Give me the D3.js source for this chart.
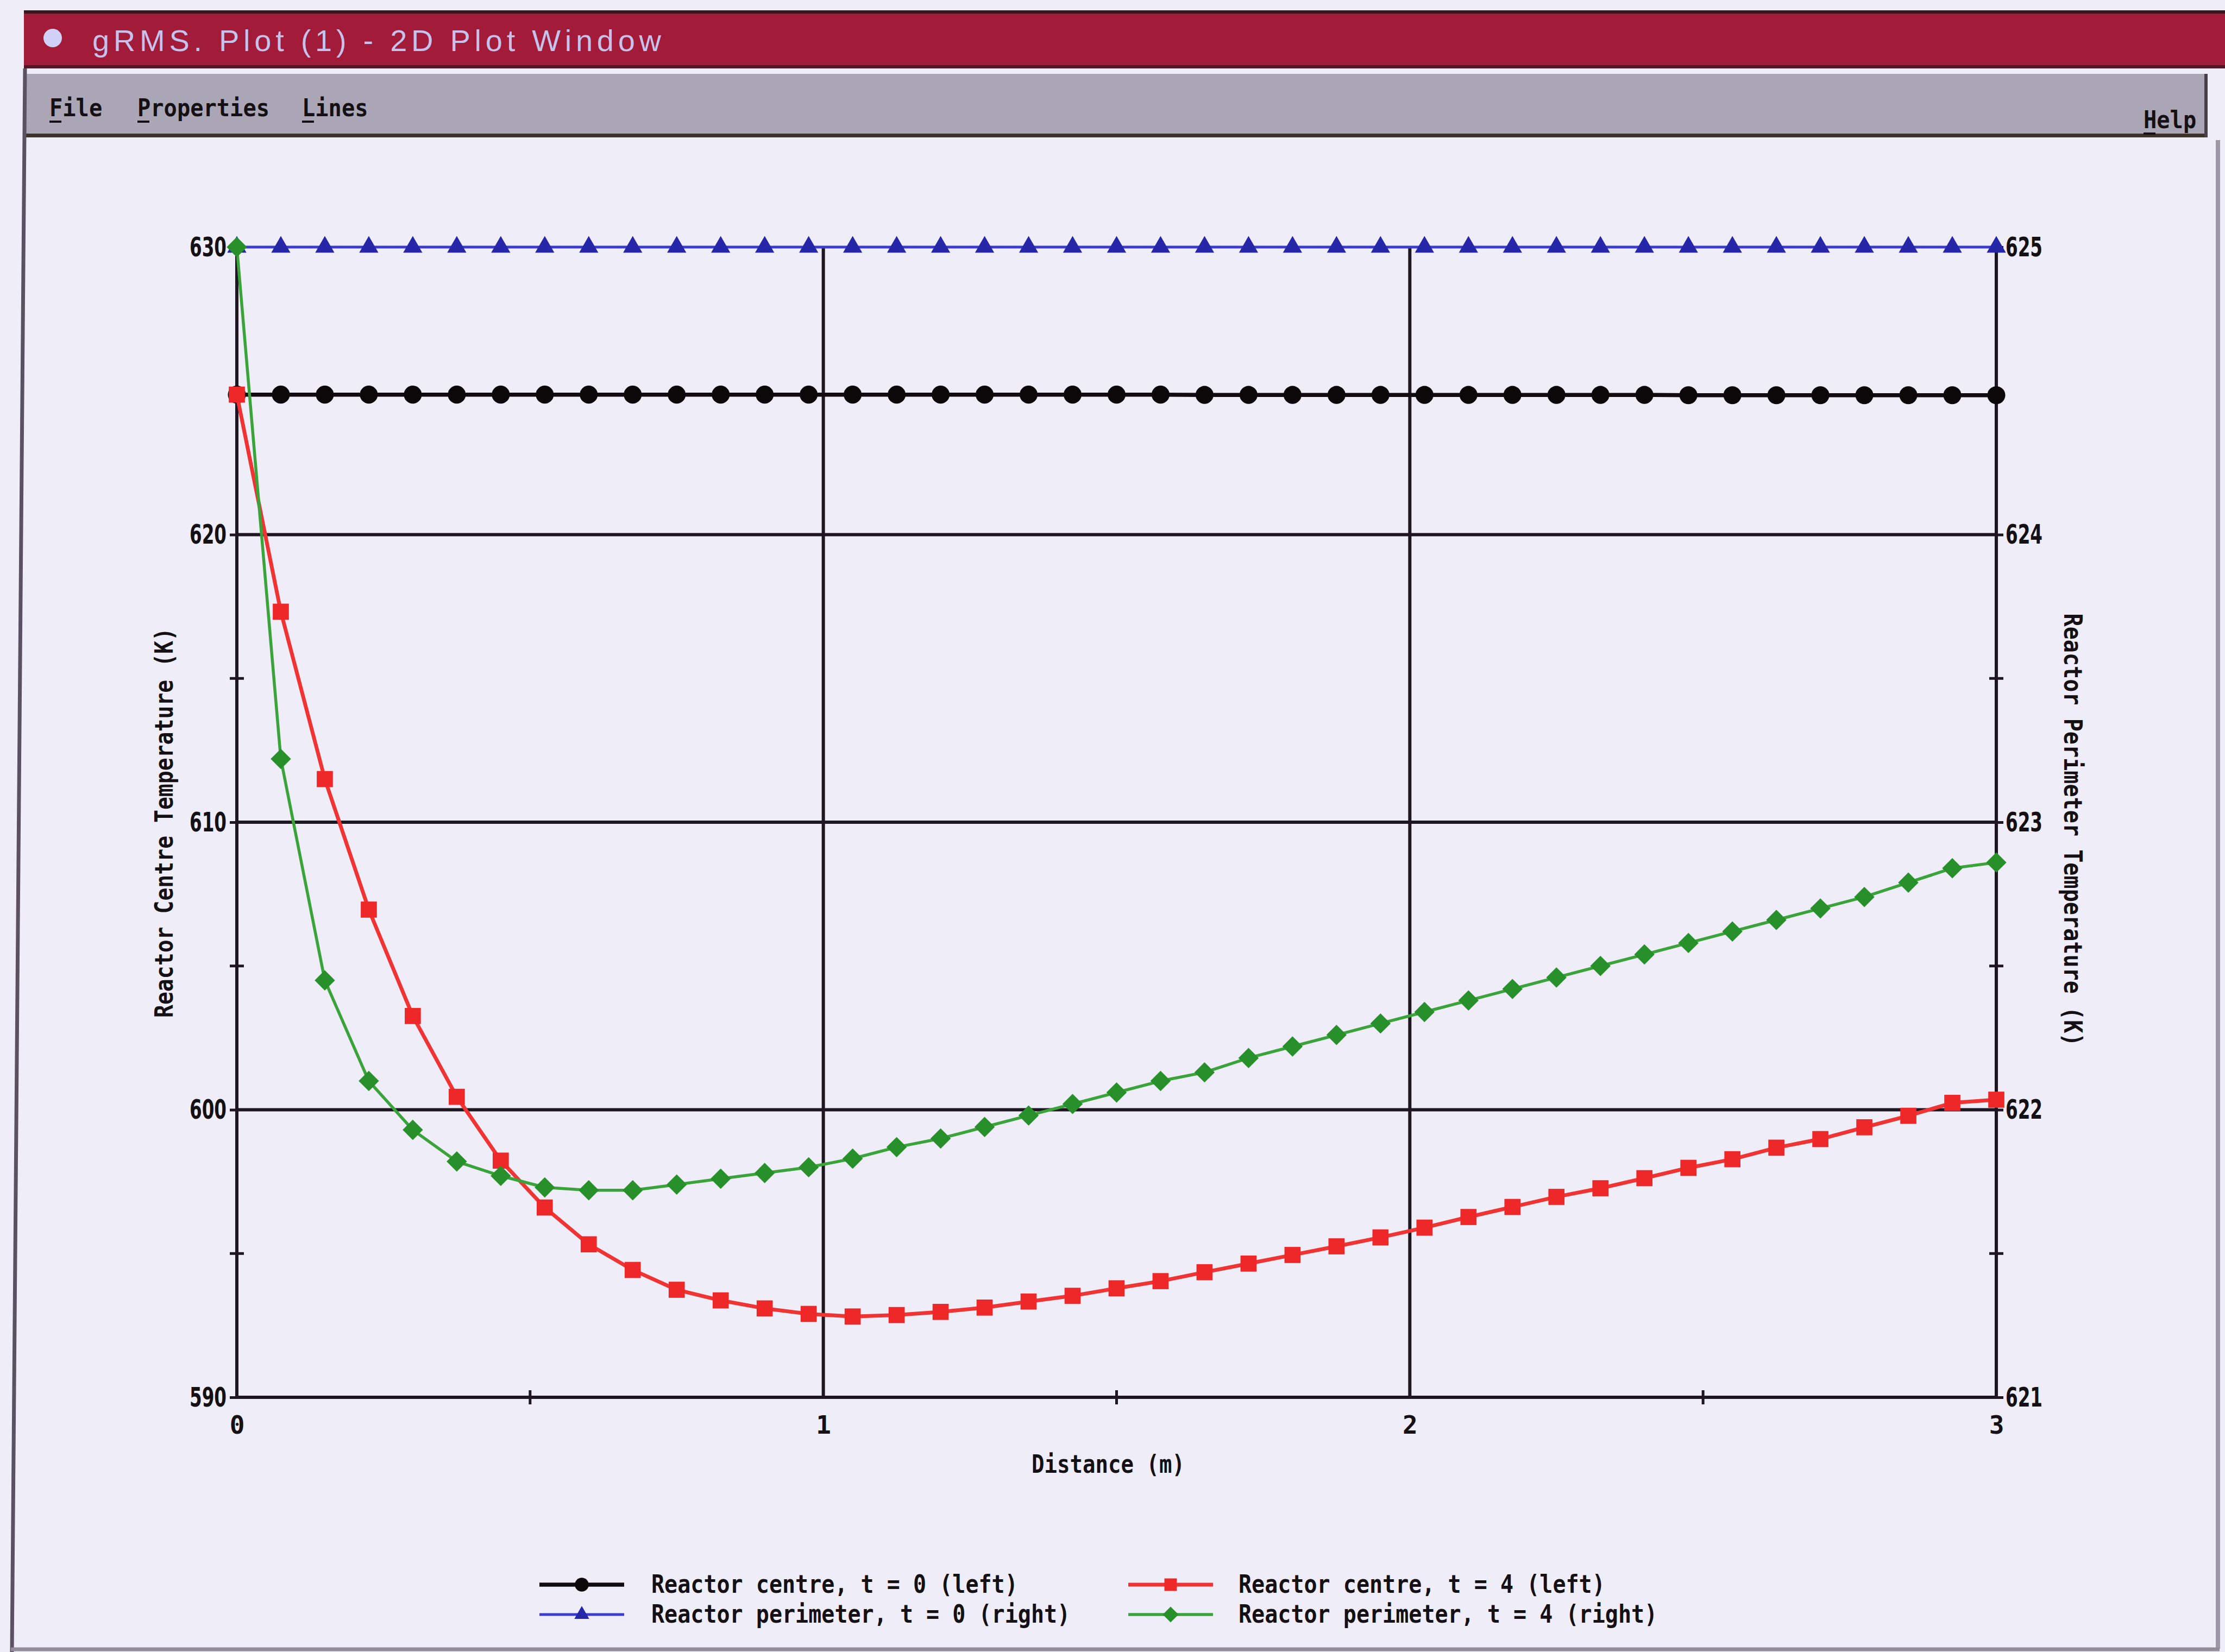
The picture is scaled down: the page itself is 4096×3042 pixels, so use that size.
<!DOCTYPE html>
<html>
<head>
<meta charset="utf-8">
<script src="https://cdn.jsdelivr.net/npm/d3@7"></script>
<style>
  html, body { margin: 0; padding: 0; background: #efeef8; }
  svg { display: block; }
</style>
</head>
<body>
<div id="chart"></div>
<script>
// distance along the reactor (m)
var distance = [0, 0.075, 0.15, 0.225, 0.3, 0.375, 0.45, 0.525, 0.6, 0.675,
  0.75, 0.825, 0.9, 0.975, 1.05, 1.125, 1.2, 1.275, 1.35, 1.425,
  1.5, 1.575, 1.65, 1.725, 1.8, 1.875, 1.95, 2.025, 2.1, 2.175,
  2.25, 2.325, 2.4, 2.475, 2.55, 2.625, 2.7, 2.775, 2.85, 2.925, 3];

// Reactor centre, t = 0 (left axis)
var centreT0 = [624.87, 624.87, 624.87, 624.87, 624.87, 624.87, 624.87, 624.87, 624.87, 624.87,
  624.87, 624.87, 624.87, 624.87, 624.87, 624.87, 624.87, 624.87, 624.87, 624.87,
  624.87, 624.87, 624.86, 624.86, 624.86, 624.86, 624.86, 624.86, 624.86, 624.86,
  624.86, 624.86, 624.86, 624.85, 624.85, 624.85, 624.85, 624.85, 624.85, 624.85, 624.85];

// Reactor perimeter, t = 0 (right axis)
var perimT0 = [625.0, 625.0, 625.0, 625.0, 625.0, 625.0, 625.0, 625.0, 625.0, 625.0,
  625.0, 625.0, 625.0, 625.0, 625.0, 625.0, 625.0, 625.0, 625.0, 625.0,
  625.0, 625.0, 625.0, 625.0, 625.0, 625.0, 625.0, 625.0, 625.0, 625.0,
  625.0, 625.0, 625.0, 625.0, 625.0, 625.0, 625.0, 625.0, 625.0, 625.0, 625.0];

// Reactor centre, t = 4 (left axis)
var centreT4 = [624.87, 617.32, 611.5, 606.96, 603.26, 600.45, 598.23, 596.6, 595.32, 594.43,
  593.74, 593.37, 593.09, 592.9, 592.81, 592.86, 592.97, 593.12, 593.33, 593.53,
  593.79, 594.04, 594.35, 594.65, 594.95, 595.25, 595.56, 595.9, 596.27, 596.62,
  596.97, 597.27, 597.62, 597.98, 598.28, 598.68, 598.98, 599.39, 599.79, 600.24, 600.35];

// Reactor perimeter, t = 4 (right axis)
var perimT4 = [625.0, 623.22, 622.45, 622.1, 621.93, 621.82, 621.77, 621.73, 621.72, 621.72,
  621.74, 621.76, 621.78, 621.8, 621.83, 621.87, 621.9, 621.94, 621.98, 622.02,
  622.06, 622.1, 622.13, 622.18, 622.22, 622.26, 622.3, 622.34, 622.38, 622.42,
  622.46, 622.5, 622.54, 622.58, 622.62, 622.66, 622.7, 622.74, 622.79, 622.84, 622.86];

var seriesNames = ["Reactor centre, t = 0 (left)", "Reactor perimeter, t = 0 (right)",
  "Reactor centre, t = 4 (left)", "Reactor perimeter, t = 4 (right)"];

var leftTicks = [590, 600, 610, 620, 630];
var leftMinor = [595, 605, 615, 625];
var rightTicks = [621, 622, 623, 624, 625];
var rightMinor = [621.5, 622.5, 623.5, 624.5];
var xTicks = [0, 1, 2, 3];
var xMinor = [0.5, 1.5, 2.5];

var W = 4096, H = 3042;
var monoFont = "'DejaVu Sans Mono', 'Liberation Mono', monospace";
var narrowFont = "'Liberation Sans Narrow', 'DejaVu Sans Condensed', 'Liberation Sans', sans-serif";

var svg = d3.select("#chart").append("svg")
    .attr("width", W)
    .attr("height", H);

svg.append("rect").attr("width", W).attr("height", H).attr("fill", "#efeef8");

// ---- window chrome ----
svg.append("rect").attr("x", 44).attr("y", 21).attr("width", W - 44).attr("height", 104).attr("fill", "#a21b39");
svg.append("rect").attr("x", 44).attr("y", 19).attr("width", W - 44).attr("height", 6).attr("fill", "#3c141c");
svg.append("rect").attr("x", 44).attr("y", 120).attr("width", W - 44).attr("height", 6).attr("fill", "#571424");
svg.append("circle").attr("cx", 97).attr("cy", 70).attr("r", 17).attr("fill", "#d0d0f8");
svg.append("text")
    .attr("x", 170).attr("y", 94)
    .attr("font-family", "'Liberation Sans', Arial, sans-serif")
    .attr("font-size", 56)
    .attr("fill", "#c6c2ee")
    .attr("textLength", 1047)
    .attr("lengthAdjust", "spacing")
    .text("gRMS. Plot (1) - 2D Plot Window");

svg.append("rect").attr("x", 46).attr("y", 136).attr("width", 4062 - 46).attr("height", 114).attr("fill", "#aaa6b5");
svg.append("rect").attr("x", 46).attr("y", 246).attr("width", 4062 - 46).attr("height", 7).attr("fill", "#3e322c");
svg.append("rect").attr("x", 4058).attr("y", 136).attr("width", 6).attr("height", 117).attr("fill", "#4a4048");

var menuItems = [{t: "File", x: 91, y: 214}, {t: "Properties", x: 253, y: 214}, {t: "Lines", x: 556, y: 214}, {t: "Help", x: 3946, y: 236}];
menuItems.forEach(function(m) {
  svg.append("text")
      .attr("x", m.x).attr("y", m.y)
      .attr("font-family", monoFont)
      .attr("font-weight", "bold")
      .attr("font-size", 44)
      .attr("fill", "#141014")
      .attr("textLength", m.t.length * 24.3)
      .attr("lengthAdjust", "spacingAndGlyphs")
      .text(m.t);
  svg.append("rect").attr("x", m.x).attr("y", m.y + 8).attr("width", 22).attr("height", 4).attr("fill", "#141014");
});

// window borders
svg.append("path").attr("d", "M46,126 L22," + H).attr("stroke", "#5a5262").attr("stroke-width", 7).attr("fill", "none");
svg.append("line").attr("x1", 4083).attr("y1", 258).attr("x2", 4083).attr("y2", 3036)
    .attr("stroke", "#9d97a8").attr("stroke-width", 8);
svg.append("line").attr("x1", 20).attr("y1", 3037).attr("x2", 4086).attr("y2", 3037)
    .attr("stroke", "#928b9c").attr("stroke-width", 7);

// ---- plot ----
var x = d3.scaleLinear().domain([0, 3]).range([436, 3675]);
var yL = d3.scaleLinear().domain([590, 630]).range([2573, 455]);
var yR = d3.scaleLinear().domain([621, 625]).range([2573, 455]);

var gridColor = "#1e1620";
var g = svg.append("g");

// horizontal grid lines
g.selectAll(".hgrid")
    .data(leftTicks.filter(function(d) { return d < 630; }))
    .enter().append("line")
    .attr("x1", x(0)).attr("x2", x(3))
    .attr("y1", function(d) { return yL(d); })
    .attr("y2", function(d) { return yL(d); })
    .attr("stroke", gridColor).attr("stroke-width", 6);

// vertical grid lines + axis lines
g.selectAll(".vgrid")
    .data(xTicks)
    .enter().append("line")
    .attr("x1", function(d) { return x(d); })
    .attr("x2", function(d) { return x(d); })
    .attr("y1", yL(630)).attr("y2", yL(590))
    .attr("stroke", gridColor).attr("stroke-width", 6);

function styleTickText(sel) {
  sel.selectAll("text")
      .attr("font-family", narrowFont)
      .attr("font-weight", "bold")
      .attr("font-size", 50)
      .attr("fill", "#141014")
      .attr("textLength", 68)
      .attr("lengthAdjust", "spacingAndGlyphs");
}

// left axis: major ticks outward, minor ticks across
var leftAxis = d3.axisLeft(yL).tickValues(leftTicks).tickSize(13).tickPadding(6).tickFormat(d3.format("d"));
var gl = g.append("g").attr("transform", "translate(" + x(0) + ",0)").call(leftAxis);
gl.select(".domain").remove();
gl.selectAll("line").attr("stroke", gridColor).attr("stroke-width", 5);
styleTickText(gl);
g.selectAll(".lminor")
    .data(leftMinor)
    .enter().append("line")
    .attr("x1", x(0) - 13).attr("x2", x(0) + 13)
    .attr("y1", function(d) { return yL(d); })
    .attr("y2", function(d) { return yL(d); })
    .attr("stroke", gridColor).attr("stroke-width", 5);

// right axis
var rightAxis = d3.axisRight(yR).tickValues(rightTicks).tickSize(13).tickPadding(4).tickFormat(d3.format("d"));
var gr = g.append("g").attr("transform", "translate(" + x(3) + ",0)").call(rightAxis);
gr.select(".domain").remove();
gr.selectAll("line").attr("stroke", gridColor).attr("stroke-width", 5);
styleTickText(gr);
g.selectAll(".rminor")
    .data(rightMinor)
    .enter().append("line")
    .attr("x1", x(3) - 13).attr("x2", x(3) + 13)
    .attr("y1", function(d) { return yR(d); })
    .attr("y2", function(d) { return yR(d); })
    .attr("stroke", gridColor).attr("stroke-width", 5);

// bottom axis
var bottomAxis = d3.axisBottom(x).tickValues(xTicks).tickSize(0).tickPadding(34).tickFormat(d3.format("d"));
var gb = g.append("g").attr("transform", "translate(0," + yL(590) + ")").call(bottomAxis);
gb.select(".domain").remove();
gb.selectAll("text")
    .attr("font-family", monoFont)
    .attr("font-weight", "bold")
    .attr("font-size", 46)
    .attr("fill", "#141014");
g.selectAll(".xminor")
    .data(xMinor)
    .enter().append("line")
    .attr("x1", function(d) { return x(d); })
    .attr("x2", function(d) { return x(d); })
    .attr("y1", yL(590) - 13).attr("y2", yL(590) + 13)
    .attr("stroke", gridColor).attr("stroke-width", 5);

// axis titles
svg.append("text")
    .attr("x", 2040).attr("y", 2712)
    .attr("text-anchor", "middle")
    .attr("font-family", monoFont).attr("font-weight", "bold").attr("font-size", 46)
    .attr("fill", "#141014")
    .attr("textLength", 282).attr("lengthAdjust", "spacingAndGlyphs")
    .text("Distance (m)");

svg.append("text")
    .attr("transform", "translate(318,1515) rotate(-90)")
    .attr("text-anchor", "middle")
    .attr("font-family", monoFont).attr("font-weight", "bold").attr("font-size", 46)
    .attr("fill", "#141014")
    .attr("textLength", 718).attr("lengthAdjust", "spacingAndGlyphs")
    .text("Reactor Centre Temperature (K)");

svg.append("text")
    .attr("transform", "translate(3800,1528) rotate(90)")
    .attr("text-anchor", "middle")
    .attr("font-family", monoFont).attr("font-weight", "bold").attr("font-size", 46)
    .attr("fill", "#141014")
    .attr("textLength", 797).attr("lengthAdjust", "spacingAndGlyphs")
    .text("Reactor Perimeter Temperature (K)");

// ---- series ----
var series = [
  {name: seriesNames[0], values: centreT0, y: yL, color: "#120c10", mark: "#0c080a", symbol: d3.symbolCircle, size: 860, rot: 0, width: 7.5},
  {name: seriesNames[1], values: perimT0, y: yR, color: "#3b3bd0", mark: "#2626a8", symbol: d3.symbolTriangle, size: 540, rot: 0, width: 5},
  {name: seriesNames[2], values: centreT4, y: yL, color: "#f03434", mark: "#ee2828", symbol: d3.symbolSquare, size: 880, rot: 0, width: 7},
  {name: seriesNames[3], values: perimT4, y: yR, color: "#3aa33a", mark: "#27902a", symbol: d3.symbolSquare, size: 700, rot: 45, width: 5.5}
];

series.forEach(function(s) {
  var pts = distance.map(function(d, i) { return {x: d, v: s.values[i]}; });
  var line = d3.line()
      .x(function(d) { return x(d.x); })
      .y(function(d) { return s.y(d.v); });
  var gs = g.append("g");
  gs.append("path")
      .datum(pts)
      .attr("d", line)
      .attr("fill", "none")
      .attr("stroke", s.color)
      .attr("stroke-width", s.width)
      .attr("stroke-linejoin", "round");
  gs.selectAll(".pt")
      .data(pts)
      .enter().append("path")
      .attr("d", d3.symbol().type(s.symbol).size(s.size))
      .attr("transform", function(d) { return "translate(" + x(d.x) + "," + s.y(d.v) + ") rotate(" + s.rot + ")"; })
      .attr("fill", s.mark);
});

// ---- legend ----
var legCol = [993, 2077], legText = [1199, 2280], legRow = [2918, 2973];
series.forEach(function(s, i) {
  var c = i < 2 ? 0 : 1, r = i % 2;
  var lg = svg.append("g");
  lg.append("line")
      .attr("x1", legCol[c]).attr("x2", legCol[c] + 156)
      .attr("y1", legRow[r]).attr("y2", legRow[r])
      .attr("stroke", s.color).attr("stroke-width", s.width);
  lg.append("path")
      .attr("d", d3.symbol().type(s.symbol).size(s.size * 0.6))
      .attr("transform", "translate(" + (legCol[c] + 78) + "," + legRow[r] + ") rotate(" + s.rot + ")")
      .attr("fill", s.mark);
  lg.append("text")
      .attr("x", legText[c]).attr("y", legRow[r] + 15)
      .attr("font-family", monoFont).attr("font-weight", "bold").attr("font-size", 46)
      .attr("fill", "#141014")
      .attr("textLength", s.name.length * 24.1).attr("lengthAdjust", "spacingAndGlyphs")
      .text(s.name);
});
</script>
</body>
</html>
